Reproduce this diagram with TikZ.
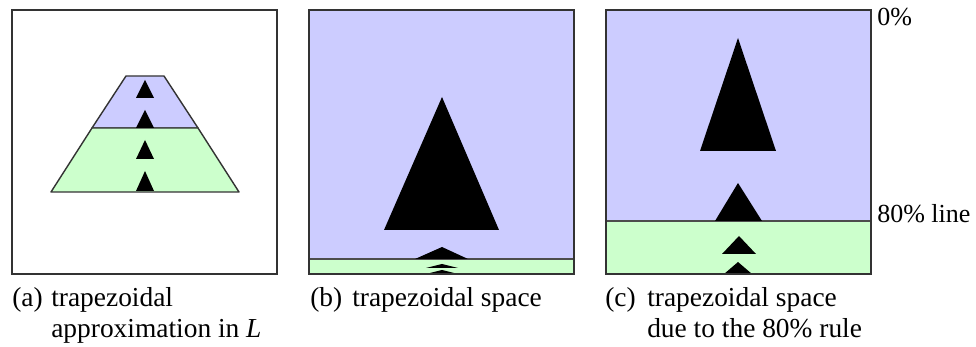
\documentclass[tikz,border=0pt]{standalone}
\usepackage{fontspec}
\setmainfont{Liberation Serif}
\usepackage{tikz}
\usetikzlibrary{positioning}
\usepackage{xcolor}
\definecolor{spaceblue}{HTML}{CCCCFF}
\definecolor{spacegreen}{HTML}{CCFFCC}
\tikzset{
    panelframe/.style={draw=black!80, line width=1.1pt},
    trapline/.style={draw=black!80, line width=1pt, line join=round},
    pyramid/.style={fill=black},
    captiontext/.style={font=\fontsize{19.5}{24}\selectfont, inner sep=0pt},
    marktext/.style={font=\fontsize{18.5}{23}\selectfont, inner sep=0pt}
}

\begin{document}
\begin{tikzpicture}[x=0.025cm, y=-0.025cm]
    \useasboundingbox (0,0) rectangle (976,347);

    % (a) trapezoidal approximation
    \draw[panelframe] (12,10) rectangle (277,274);
    \filldraw[trapline, fill=spaceblue] (92,128) -- (126,76) -- (164,76) -- (198,128) -- cycle;
    \filldraw[trapline, fill=spacegreen] (51,192) -- (92,128) -- (198,128) -- (239,192) -- cycle;
    \foreach \ya/\yb in {80/98,110/128,140/159,171/191}
        \fill[pyramid] (136,\yb) -- (145,\ya) -- (154,\yb) -- cycle;

    % (b) trapezoidal space
    \fill[spaceblue] (309,10) rectangle (574,259);
    \fill[spacegreen] (309,259) rectangle (574,274);
    \draw[black!70, line width=0.8pt] (309,259) -- (574,259);
    \fill[pyramid] (384,230) -- (442,97) -- (499,230) -- cycle;
    \fill[pyramid] (415,259) -- (442,247) -- (468,259) -- cycle;
    \fill[pyramid] (426,268) -- (442,264) -- (458,268) -- cycle;
    \fill[pyramid] (430,273) -- (442,270) -- (454,273) -- cycle;
    \draw[panelframe] (309,10) rectangle (574,274);

    % (c) 80% rule
    \fill[spaceblue] (606,10) rectangle (871,221);
    \fill[spacegreen] (606,221) rectangle (871,274);
    \draw[black!70, line width=0.8pt] (606,221) -- (871,221);
    \fill[pyramid] (700,151) -- (738,38) -- (776,151) -- cycle;
    \fill[pyramid] (715,221) -- (738,183) -- (762,221) -- cycle;
    \fill[pyramid] (722,254) -- (739,236) -- (756,254) -- cycle;
    \fill[pyramid] (724,274) -- (738,262) -- (752,274) -- cycle;
    \draw[panelframe] (606,10) rectangle (871,274);

    \node[marktext, anchor=base west] (zero) at (877,26) {0\%};
    \node[marktext, anchor=base west] (eighty) at (877,223) {80\% line};

    % captions
    \node[captiontext, anchor=base west] (capa) at (12,307) {(a)};
    \node[captiontext, anchor=base west] (capatext) at (51,307) {trapezoidal};
    \node[captiontext, anchor=base west] (capatextb) at (51,337) {approximation in \textit{L}};
    \node[captiontext, anchor=base west] (capb) at (310,307) {(b)};
    \node[captiontext, anchor=base west] (capbtext) at (352,307) {trapezoidal space};
    \node[captiontext, anchor=base west] (capc) at (605,307) {(c)};
    \node[captiontext, anchor=base west] (capctext) at (647,307) {trapezoidal space};
    \node[captiontext, anchor=base west] (capctextb) at (647,337) {due to the 80\% rule};
\end{tikzpicture}
\end{document}
